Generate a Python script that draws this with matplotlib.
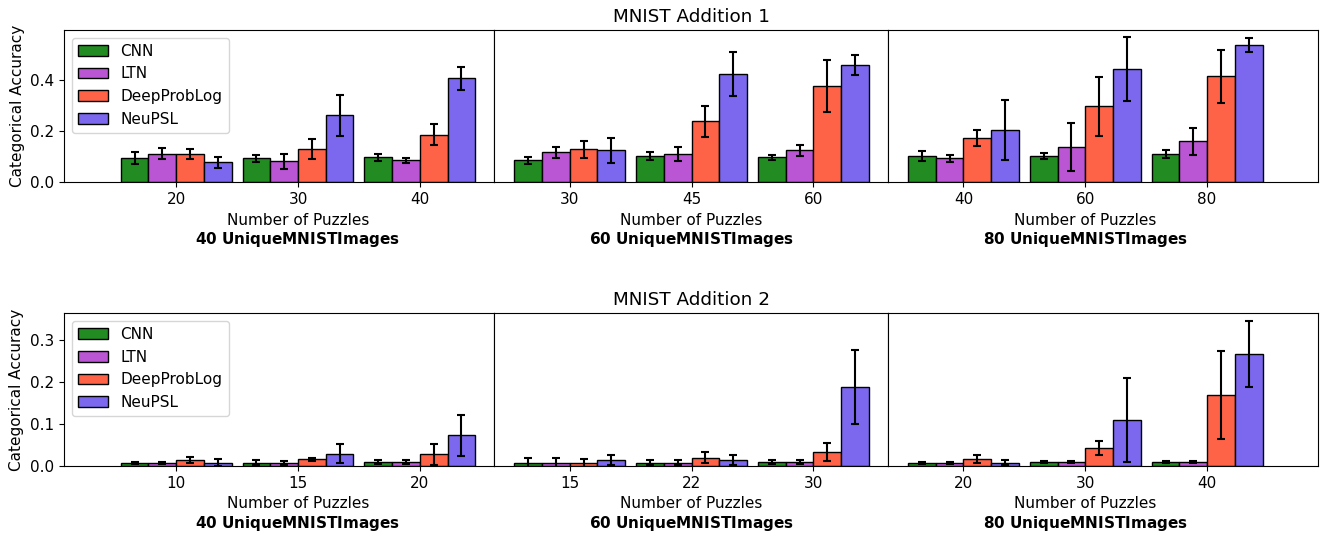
import matplotlib
matplotlib.use("Agg")
import matplotlib.pyplot as plt
import numpy as np

plt.rcParams["font.size"] = 11

models = ["CNN", "LTN", "DeepProbLog", "NeuPSL"]
colors = ["forestgreen", "mediumorchid", "tomato", "mediumslateblue"]
unique_images = [40, 60, 80]

# MNIST Addition 1
add1_puzzles = [[20, 30, 40], [30, 45, 60], [40, 60, 80]]
add1_cnn = [[0.093, 0.093, 0.097], [0.085, 0.102, 0.098], [0.102, 0.102, 0.111]]
add1_ltn = [[0.111, 0.082, 0.085], [0.116, 0.111, 0.124], [0.093, 0.137, 0.160]]
add1_dpl = [[0.111, 0.129, 0.186], [0.129, 0.238, 0.374], [0.172, 0.296, 0.413]]
add1_neupsl = [[0.078, 0.261, 0.405], [0.124, 0.422, 0.457], [0.203, 0.440, 0.534]]
add1_cnn_err = [[0.023, 0.013, 0.013], [0.012, 0.017, 0.010], [0.019, 0.011, 0.016]]
add1_ltn_err = [[0.021, 0.029, 0.010], [0.021, 0.027, 0.023], [0.015, 0.093, 0.053]]
add1_dpl_err = [[0.020, 0.038, 0.042], [0.033, 0.060, 0.101], [0.031, 0.116, 0.104]]
add1_neupsl_err = [[0.022, 0.079, 0.046], [0.049, 0.087, 0.038], [0.117, 0.125, 0.027]]

# MNIST Addition 2
add2_puzzles = [[10, 15, 20], [15, 22, 30], [20, 30, 40]]
add2_cnn = [[0.007, 0.007, 0.009], [0.007, 0.007, 0.009], [0.007, 0.009, 0.009]]
add2_ltn = [[0.007, 0.007, 0.009], [0.007, 0.007, 0.009], [0.007, 0.009, 0.009]]
add2_dpl = [[0.013, 0.015, 0.027], [0.007, 0.019, 0.032], [0.016, 0.043, 0.169]]
add2_neupsl = [[0.007, 0.029, 0.072], [0.013, 0.013, 0.188], [0.007, 0.109, 0.266]]
add2_cnn_err = [[0.003, 0.006, 0.004], [0.012, 0.006, 0.004], [0.003, 0.003, 0.003]]
add2_ltn_err = [[0.003, 0.005, 0.004], [0.012, 0.006, 0.004], [0.003, 0.003, 0.003]]
add2_dpl_err = [[0.007, 0.003, 0.025], [0.009, 0.013, 0.021], [0.009, 0.017, 0.105]]
add2_neupsl_err = [[0.008, 0.023, 0.048], [0.012, 0.012, 0.088], [0.006, 0.100, 0.079]]

WIDTH = 0.2275
XLIMS = [(-0.92, 2.61), (-0.62, 2.61), (-0.62, 2.91)]

fig = plt.figure(figsize=(13.2, 5.36), dpi=100)
ratios = [hi - lo for lo, hi in XLIMS]
gs_top = fig.add_gridspec(1, 3, left=0.0485, right=0.9985, top=0.944, bottom=0.66,
                          wspace=0, width_ratios=ratios)
gs_bot = fig.add_gridspec(1, 3, left=0.0485, right=0.9985, top=0.4155, bottom=0.131,
                          wspace=0, width_ratios=ratios)


def draw_row(gs, title, puzzles, means, errs):
    axes = []
    for k in range(3):
        ax = fig.add_subplot(gs[0, k], sharey=axes[0] if axes else None)
        axes.append(ax)
        r = np.arange(3)
        for m in range(4):
            pos = r + (m - 1.5) * WIDTH
            ax.bar(pos, means[m][k], WIDTH, yerr=errs[m][k], color=colors[m],
                   edgecolor="black", capsize=3, label=models[m],
                   error_kw=dict(elinewidth=1.5, capthick=1.5))
        ax.set_xticks(r)
        ax.set_xticklabels([str(p) for p in puzzles[k]])
        lo, hi = XLIMS[k]
        ax.set_xlim(lo, hi)
        # label sits under the middle group
        ax.set_xlabel("Number of Puzzles\n" + r"$\bf{%d\ Unique MNIST Images}$" % unique_images[k],
                      x=(1 - lo) / (hi - lo))
        if k == 0:
            ax.set_ylabel("Categorical Accuracy")
            ax.legend(loc="upper left")
        else:
            ax.tick_params(axis="y", left=False, labelleft=False)
        if k == 1:
            ax.set_title(title)
    axes[0].set_ylim(bottom=0)
    return axes


draw_row(gs_top, "MNIST Addition 1", add1_puzzles,
         [add1_cnn, add1_ltn, add1_dpl, add1_neupsl],
         [add1_cnn_err, add1_ltn_err, add1_dpl_err, add1_neupsl_err])
draw_row(gs_bot, "MNIST Addition 2", add2_puzzles,
         [add2_cnn, add2_ltn, add2_dpl, add2_neupsl],
         [add2_cnn_err, add2_ltn_err, add2_dpl_err, add2_neupsl_err])

fig.savefig("out.png", dpi=100)
